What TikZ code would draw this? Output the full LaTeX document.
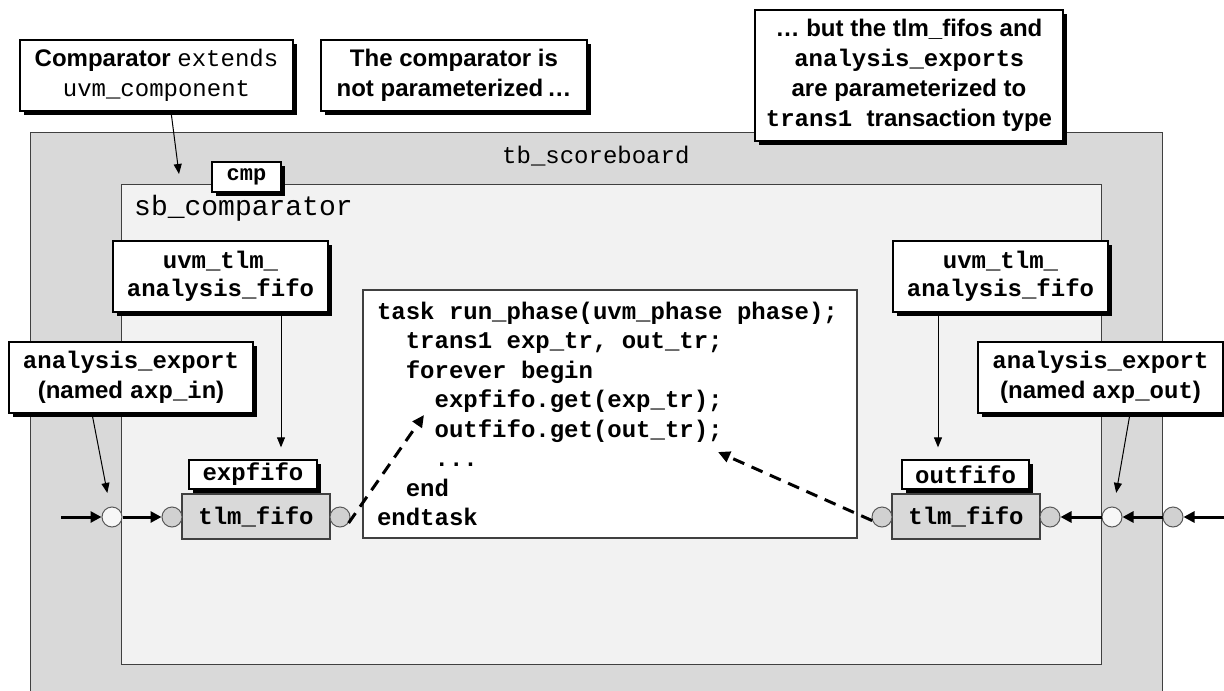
\documentclass[tikz,border=0pt]{standalone}
\usepackage{fontspec}
\setmainfont{Liberation Sans}
\newfontfamily\monofam{Liberation Mono}[WordSpace={1,0,0}]
\usetikzlibrary{arrows.meta,shadows}
\newcommand\cwb[1]{{\monofam\bfseries #1}}
\newcommand\cwn[1]{{\monofam\mdseries #1}}
% one fixed-width blank of the code font
\newcommand\csp{\hspace{0.6em}}

\begin{document}
\begin{tikzpicture}[x=1pt,y=-1pt,
  note/.style={draw=black, line width=1.3pt, fill=white, inner sep=0pt, align=center,
    font=\fontsize{24}{30}\selectfont\bfseries,
    drop shadow={shadow xshift=4pt,shadow yshift=-4pt,fill=black,opacity=1}},
  frame/.style={draw=black!75, line width=1.2pt, inner sep=0pt},
  fifo/.style={draw=black!75, line width=1.2pt, fill=black!15, inner sep=0pt,
    font=\fontsize{24}{30}\selectfont\monofam\bfseries},
  monolabel/.style={note, font=\fontsize{24}{28}\selectfont\monofam\bfseries},
  port/.style={circle, draw=black!65, line width=1pt, fill=black!18, minimum size=20pt, inner sep=0pt},
  export/.style={port, fill=black!3},
  flow/.style={line width=3pt, -{Triangle[length=11pt,width=11pt]}},
  callout/.style={line width=1pt, -{Triangle[length=10pt,width=8pt]}},
  getflow/.style={line width=3pt, dash pattern=on 12pt off 8pt, -{Triangle[length=12pt,width=11pt]}}
]
\useasboundingbox (0,0) rectangle (1224,691);

% testbench scoreboard container
\node[frame, fill=black!15, minimum width=1132pt, minimum height=570pt, anchor=north west] (tb) at (30,132) {};
\node[anchor=base west, inner sep=0pt, font=\fontsize{24}{30}\selectfont\monofam] (tblabel) at (502,163) {tb\_scoreboard};

% comparator component
\node[frame, fill=black!5, minimum width=980pt, minimum height=480pt, anchor=north west] (cmpbox) at (121,184) {};
\node[note, minimum width=69pt, minimum height=30pt, font=\fontsize{22}{26}\selectfont\monofam\bfseries] (cmp) at (246.5,177) {cmp};
\node[anchor=base west, inner sep=0pt, font=\fontsize{28}{32}\selectfont\monofam] (sblabel) at (134,215) {sb\_comparator};

% explanatory notes
\node[note, minimum width=273pt, minimum height=71pt] (cmt1) at (156.5,75.5)
  {Comparator \cwn{extends}\\ \cwn{uvm\_component}};
\node[note, minimum width=266pt, minimum height=71pt] (cmt2) at (454,75.5)
  {The comparator is\\ not parameterized\,\dots};
\node[note, minimum width=308pt, minimum height=131pt] (cmt3) at (909,75.5)
  {\dots\ but the tlm\_fifos and\\ \cwb{analysis\_export}s\\ are parameterized to\\ \cwb{trans1 }transaction type};

% analysis fifo labels
\node[monolabel, minimum width=215pt, minimum height=71pt] (uvmL) at (220.5,276.5) {uvm\_tlm\_\\analysis\_fifo};
\node[monolabel, minimum width=215pt, minimum height=71pt] (uvmR) at (1000.5,276.5) {uvm\_tlm\_\\analysis\_fifo};

% export labels
\node[note, minimum width=244pt, minimum height=71pt] (axpin) at (131,377.5)
  {\cwb{analysis\_export}\\(named \cwb{axp\_in})};
\node[note, minimum width=245pt, minimum height=71pt] (axpout) at (1100.5,377.5)
  {\cwb{analysis\_export}\\(named \cwb{axp\_out})};

% run_phase code
\node[draw=black!75, line width=1.2pt, fill=white, minimum width=494pt, minimum height=248pt,
  text width=466pt, align=left, inner xsep=14pt, inner ysep=0pt,
  font=\fontsize{24}{29.5}\selectfont\monofam\bfseries] (code) at (610,414)
  {task\csp run\_phase(uvm\_phase\csp phase);\\
   \hspace*{1.2em}trans1\csp exp\_tr,\csp out\_tr;\\
   \hspace*{1.2em}forever\csp begin\\
   \hspace*{2.4em}expfifo.get(exp\_tr);\\
   \hspace*{2.4em}outfifo.get(out\_tr);\\
   \hspace*{2.4em}...\\
   \hspace*{1.2em}end\\
   endtask};

% fifos
\node[fifo, minimum width=148pt, minimum height=45pt] (fifoL) at (256,516.5) {tlm\_fifo};
\node[fifo, minimum width=148pt, minimum height=45pt] (fifoR) at (966,516.5) {tlm\_fifo};
\node[monolabel, minimum width=128pt, minimum height=29pt] (expfifo) at (253,474.5) {expfifo};
\node[monolabel, minimum width=127pt, minimum height=29pt] (outfifo) at (965.5,474.5) {outfifo};

% ports
\node[export] (wL) at (112,517) {};
\node[port] (gL1) at (172,517) {};
\node[port] (gL2) at (340,517) {};
\node[port] (gR1) at (882,517) {};
\node[port] (gR2) at (1050,517) {};
\node[export] (wR) at (1112,517) {};
\node[port] (gR3) at (1173,517) {};

% transaction flow
\coordinate (inL) at (61,517);
\coordinate (inR) at (1226,517);
\draw[flow] (inL) -- (wL);
\draw[flow] (wL) -- (gL1);
\draw[flow] (inR) -- (gR3);
\draw[flow] (gR3) -- (wR);
\draw[flow] (wR) -- (gR2);

% callouts
\coordinate (cmptip) at (179,174);
\draw[callout] ([xshift=14.5pt]cmt1.south) -- (cmptip);
\draw[callout, shorten >=14pt] ([xshift=-39pt]axpin.south) -- (wL);
\draw[callout, shorten >=14pt] ([xshift=29.5pt]axpout.south) -- (wR);
\draw[callout] ([xshift=60.5pt]uvmL.south) -- ([xshift=28pt,yshift=12pt]expfifo.north);
\draw[callout] ([xshift=-62.5pt]uvmR.south) -- ([xshift=-27.5pt,yshift=12pt]outfifo.north);

% get() calls
\coordinate (expget) at (424,415);
\coordinate (outget) at (718,452);
\draw[getflow] (gL2.-35) -- (expget);
\draw[getflow] (gR1.200) -- (outget);
\end{tikzpicture}
\end{document}
